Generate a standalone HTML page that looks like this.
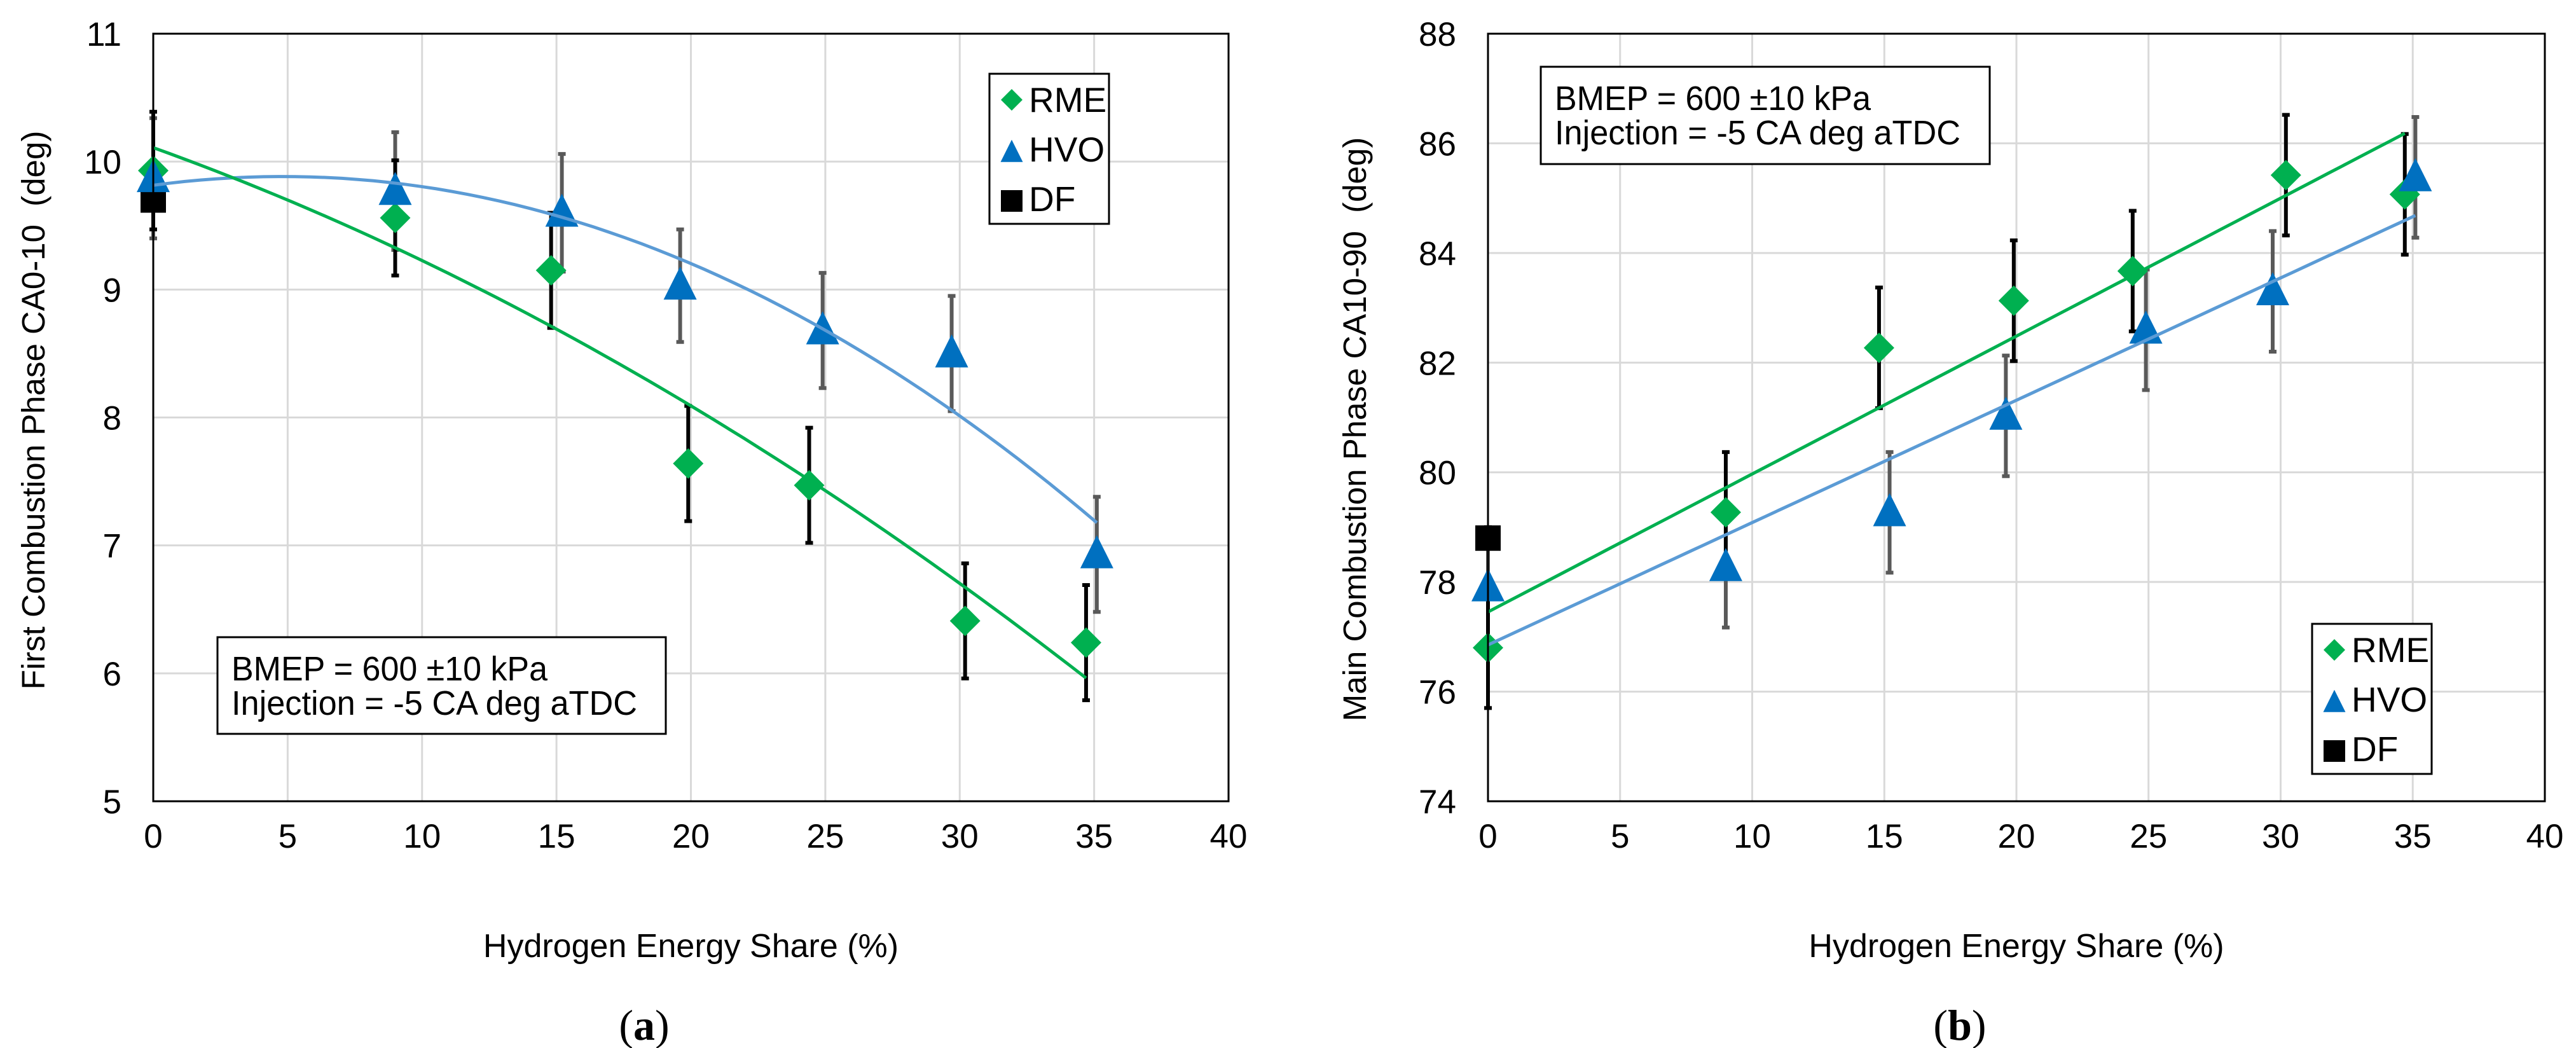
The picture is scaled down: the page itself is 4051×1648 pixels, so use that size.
<!DOCTYPE html>
<html><head><meta charset="utf-8"><style>
html,body{margin:0;padding:0;background:#fff;}
svg{display:block;font-family:"Liberation Sans",Arial,sans-serif;}
</style></head><body>
<svg id="fig" width="4051" height="1648" viewBox="0 0 4051 1648" xmlns="http://www.w3.org/2000/svg"></svg>
<script>
// ---------- Chart (a) data ----------
const xTicks = [0,5,10,15,20,25,30,35,40];
const aYTicks = [5,6,7,8,9,10,11];
const aRmeX = [0,9,14.8,19.9,24.4,30.2,34.7];
const aRmeY = [9.93,9.56,9.15,7.64,7.47,6.41,6.24];
const aRmeErr = [0.46,0.45,0.45,0.45,0.45,0.45,0.45];
const aHvoX = [0,9,15.2,19.6,24.9,29.7,35.1];
const aHvoY = [9.87,9.77,9.6,9.03,8.68,8.5,6.93];
const aHvoErr = [0.47,0.46,0.46,0.44,0.45,0.45,0.45];
const aDfX = [0];
const aDfY = [9.7];
// ---------- Chart (b) data ----------
const bYTicks = [74,76,78,80,82,84,86,88];
const bRmeX = [0,9,14.8,19.9,24.4,30.2,34.7];
const bRmeY = [76.8,79.27,82.27,83.13,83.67,85.42,85.07];
const bRmeErr = [1.1,1.1,1.1,1.1,1.1,1.1,1.1];
const bHvoX = [0,9,15.2,19.6,24.9,29.7,35.1];
const bHvoY = [77.9,78.27,79.27,81.03,82.6,83.3,85.38];
const bHvoErr = [1.1,1.1,1.1,1.1,1.1,1.1,1.1];
const bDfX = [0];
const bDfY = [78.8];

const NS = "http://www.w3.org/2000/svg";
const svg = document.getElementById('fig');
function mk(tag, attrs, parent){
  const e = document.createElementNS(NS, tag);
  for (const k in attrs) e.setAttribute(k, attrs[k]);
  (parent||svg).appendChild(e);
  return e;
}
function fitPoly(xs, ys, deg){
  const n = deg+1;
  const A = [];
  for (let i=0;i<n;i++){ A.push(new Array(n+1).fill(0)); }
  for (let k=0;k<xs.length;k++){
    for (let i=0;i<n;i++){
      for (let j=0;j<n;j++) A[i][j] += Math.pow(xs[k], i+j);
      A[i][n] += ys[k]*Math.pow(xs[k], i);
    }
  }
  for (let i=0;i<n;i++){
    let p=i; for (let r=i+1;r<n;r++) if (Math.abs(A[r][i])>Math.abs(A[p][i])) p=r;
    [A[i],A[p]]=[A[p],A[i]];
    for (let r=0;r<n;r++){ if(r===i) continue; const f=A[r][i]/A[i][i]; for(let c=i;c<=n;c++) A[r][c]-=f*A[i][c]; }
  }
  return A.map((row,i)=>row[n]/row[i]);
}
function polyVal(c,x){ let s=0; for(let i=0;i<c.length;i++) s+=c[i]*Math.pow(x,i); return s; }

function drawChart(cfg){
  const g = mk('g', {});
  
  
  const L=cfg.left, R=cfg.right, T=53, B=1260;
  const yMin=cfg.yTicks[0], yMax=cfg.yTicks[cfg.yTicks.length-1];
  const sx = v => L + (v-0)/(40-0)*(R-L);
  const sy = v => B - (v-yMin)/(yMax-yMin)*(B-T);
  for (const t of xTicks){
    if (t===0||t===40) continue;
    const l = mk('line',{x1:sx(t),x2:sx(t),y1:T,y2:B,stroke:'#d9d9d9','stroke-width':3},g);
    
    
  }
  for (const t of cfg.yTicks){
    if (t===yMin||t===yMax) continue;
    const l = mk('line',{x1:L,x2:R,y1:sy(t),y2:sy(t),stroke:'#d9d9d9','stroke-width':3},g);
    
    
  }
  for (const t of xTicks){
    const tx = mk('text',{x:sx(t),y:1333,'font-size':53,'text-anchor':'middle'},g);
    tx.textContent = t;
    
    
  }
  for (const t of cfg.yTicks){
    const tx = mk('text',{x:L-50,y:sy(t)+19,'font-size':53,'text-anchor':'end'},g);
    tx.textContent = t;
    
    
  }
  const xt = mk('text',{x:(L+R)/2,y:1505,'font-size':52,'text-anchor':'middle'},g);
  xt.textContent = 'Hydrogen Energy Share (%)';
  
  
  const yt = mk('text',{x:0,y:0,'font-size':51,'text-anchor':'middle',transform:`translate(${cfg.ytX},${cfg.ytY}) rotate(-90)`},g);
  yt.textContent = cfg.yTitle;
  yt.style.whiteSpace='pre';
  
  
  const sl = mk('text',{x:cfg.subX,y:1635,'font-size':68,'text-anchor':'middle','font-family':'"Liberation Serif",serif'},g);
  sl.innerHTML = '(<tspan font-weight="bold">'+cfg.sub+'</tspan>)';
  
  
  const ab = mk('rect',{x:cfg.annX,y:cfg.annY,width:cfg.annW,height:cfg.annH,fill:'#fff',stroke:'#000','stroke-width':3},g);
  
  
  const a1 = mk('text',{x:cfg.annX+22,y:cfg.annY+68,'font-size':54,textLength:497,lengthAdjust:'spacingAndGlyphs'},g);
  a1.textContent='BMEP = 600 \u00b110 kPa';
  
  
  const a2 = mk('text',{x:cfg.annX+22,y:cfg.annY+122,'font-size':54,textLength:638,lengthAdjust:'spacingAndGlyphs'},g);
  a2.textContent='Injection = -5 CA deg aTDC';
  
  

  function trend(xs, ys, deg, color, name){
    const c = fitPoly(xs, ys, deg);
    const x0=Math.min(...xs), x1=Math.max(...xs);
    let d='';
    for (let i=0;i<=60;i++){ const x=x0+(x1-x0)*i/60; d+=(i?'L':'M')+sx(x).toFixed(1)+' '+sy(polyVal(c,x)).toFixed(1); }
    const p = mk('path',{d:d,fill:'none',stroke:color,'stroke-width':5},g);
    
    
  }
  function errs(xs, ys, es, color, name){
    for (let i=0;i<xs.length;i++){
      const x=sx(xs[i]), y1=sy(ys[i]+es[i]), y2=sy(ys[i]-es[i]);
      const p = mk('path',{d:`M${x} ${y1}V${y2}M${x-6} ${y1}H${x+6}M${x-6} ${y2}H${x+6}`,stroke:color,'stroke-width':6,fill:'none'},g);
      
      
    }
  }
  function diamond(x,y,r,name,parent){
    const p = mk('path',{d:`M${x} ${y-r}L${x+r} ${y}L${x} ${y+r}L${x-r} ${y}Z`,fill:'#00b050'},parent||g);
    
    
  }
  function tri(x,y,s,name,parent){
    const p = mk('path',{d:`M${x} ${y-s*0.58}L${x+s/2} ${y+s*0.42}L${x-s/2} ${y+s*0.42}Z`,fill:'#0070c0'},parent||g);
    
    
  }
  function sq(x,y,s,name,parent){
    const p = mk('rect',{x:x-s/2,y:y-s/2,width:s,height:s,fill:'#000'},parent||g);
    
    
  }
  errs(cfg.hvoX,cfg.hvoY,cfg.hvoErr,'#595959','hvo-error-bar');
  errs(cfg.rmeX,cfg.rmeY,cfg.rmeErr,'#000','rme-error-bar');
  for (let i=0;i<cfg.dfX.length;i++) sq(sx(cfg.dfX[i]),sy(cfg.dfY[i]),40,'df-point');
  for (let i=0;i<cfg.rmeX.length;i++) diamond(sx(cfg.rmeX[i]),sy(cfg.rmeY[i]),24,'rme-point');
  for (let i=0;i<cfg.hvoX.length;i++) tri(sx(cfg.hvoX[i]),sy(cfg.hvoY[i]),52,'hvo-point');
  trend(cfg.hvoX,cfg.hvoY,cfg.deg,'#5b9bd5','hvo-trendline');
  trend(cfg.rmeX,cfg.rmeY,cfg.deg,'#00b050','rme-trendline');

  const bd = mk('rect',{x:L,y:T,width:R-L,height:B-T,fill:'none',stroke:'#000','stroke-width':3},g);
  
  

  const lg = mk('g',{},g);
  
  
  const lr = mk('rect',{x:cfg.legX,y:cfg.legY,width:188,height:236,fill:'#fff',stroke:'#000','stroke-width':3},lg);
  
  
  const names=['RME','HVO','DF'];
  for (let i=0;i<3;i++){
    const cy = cfg.legY+40+i*78;
    const mx = cfg.legX+35;
    if(i===0) diamond(mx,cy+1,17,'legend-marker-rme',lg);
    if(i===1) tri(mx,cy+6,35,'legend-marker-hvo',lg);
    if(i===2) sq(mx,cy+4,34,'legend-marker-df',lg);
    const t = mk('text',{x:cfg.legX+62,y:cy+20,'font-size':55},lg);
    t.textContent=names[i];
    
    
  }
}

drawChart({name:'chart-a', left:241, right:1932, yTicks:aYTicks,
  rmeX:aRmeX, rmeY:aRmeY, rmeErr:aRmeErr, hvoX:aHvoX, hvoY:aHvoY, hvoErr:aHvoErr, dfX:aDfX, dfY:aDfY, deg:2,
  yTitle:'First Combustion Phase CA0-10  (deg)', ytX:70, ytY:645, sub:'a', subX:1013,
  annX:342, annY:1002, annW:705, annH:152, legX:1556, legY:116});
drawChart({name:'chart-b', left:2340, right:4002, yTicks:bYTicks,
  rmeX:bRmeX, rmeY:bRmeY, rmeErr:bRmeErr, hvoX:bHvoX, hvoY:bHvoY, hvoErr:bHvoErr, dfX:bDfX, dfY:bDfY, deg:1,
  yTitle:'Main Combustion Phase CA10-90  (deg)', ytX:2148, ytY:675, sub:'b', subX:3082,
  annX:2423, annY:105, annW:706, annH:153, legX:3636, legY:981});
</script>
</body></html>
